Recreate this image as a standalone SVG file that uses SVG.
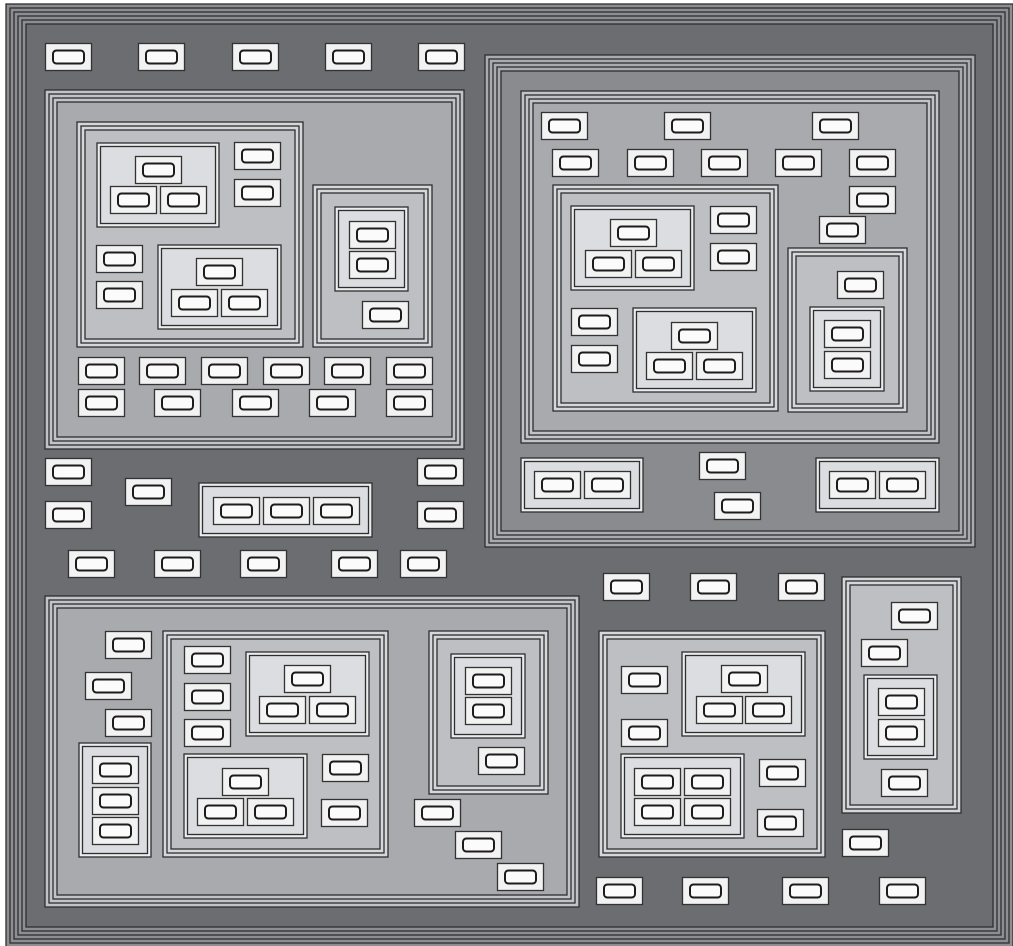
<svg xmlns="http://www.w3.org/2000/svg" xmlns:xlink="http://www.w3.org/1999/xlink" width="1013" height="946" viewBox="0 0 1013 946">
<style>
.c rect{stroke:#2e2e30;stroke-width:1.3}
.nf{fill:none}
.g1{fill:#8d8e92}.f0{fill:#6c6d71}
.g2{fill:#aaabae}.f1{fill:#8a8b8f}
.g3{fill:#c2c3c6}.f2{fill:#a9aaad}
.g4{fill:#d6d7d9}.f3{fill:#bebfc2}
.g5{fill:#ececed}.f4{fill:#dcdde0}
.lb{fill:#f2f2f3;stroke:#333;stroke-width:1.3}
.pill{fill:#fbfbfb;stroke:#1c1c1c;stroke-width:2}
</style>
<defs>
<g id="leaf"><rect class="lb" x="0.5" y="0.5" width="46" height="27"/><rect class="pill" x="8" y="7.5" width="31" height="13" rx="3.5"/></g>
</defs>
<rect width="1013" height="946" fill="#fff"/>
<g id="clusters">
<g id="root" class="c"><rect class="g1" x="6" y="4" width="1007" height="943"/><rect class="nf" x="10" y="8" width="999" height="935"/><rect class="nf" x="14" y="12" width="991" height="927"/><rect class="nf" x="18" y="16" width="983" height="919"/><rect class="nf" x="22" y="20" width="975" height="911"/><rect class="f0" x="26" y="24" width="967" height="903"/></g>
<g id="TL1" class="c"><rect class="g3" x="45" y="90" width="419" height="359"/><rect class="nf" x="49" y="94" width="411" height="351"/><rect class="nf" x="53" y="98" width="403" height="343"/><rect class="f2" x="57" y="102" width="395" height="335"/></g>
<g id="TL1a" class="c"><rect class="g4" x="77" y="122" width="226" height="225"/><rect class="nf" x="81" y="126" width="218" height="217"/><rect class="f3" x="85" y="130" width="210" height="209"/></g>
<g id="TL1a1" class="c"><rect class="g5" x="97" y="143" width="122" height="84"/><rect class="f4" x="100.5" y="146.5" width="115" height="77"/></g>
<g id="TL1a2" class="c"><rect class="g5" x="158" y="245" width="123" height="84"/><rect class="f4" x="161.5" y="248.5" width="116" height="77"/></g>
<g id="TL1b" class="c"><rect class="g4" x="313" y="185" width="119" height="162"/><rect class="nf" x="317" y="189" width="111" height="154"/><rect class="f3" x="321" y="193" width="103" height="146"/></g>
<g id="TL1b1" class="c"><rect class="g5" x="335" y="207" width="73" height="84"/><rect class="f4" x="338.5" y="210.5" width="66" height="77"/></g>
<g id="MID" class="c"><rect class="g5" x="199" y="483" width="173" height="54"/><rect class="f4" x="202.5" y="486.5" width="166" height="47"/></g>
<g id="TR1" class="c"><rect class="g2" x="485" y="55" width="490" height="492"/><rect class="nf" x="489" y="59" width="482" height="484"/><rect class="nf" x="493" y="63" width="474" height="476"/><rect class="nf" x="497" y="67" width="466" height="468"/><rect class="f1" x="501" y="71" width="458" height="460"/></g>
<g id="TR1a" class="c"><rect class="g3" x="521" y="91" width="418" height="352"/><rect class="nf" x="525" y="95" width="410" height="344"/><rect class="nf" x="529" y="99" width="402" height="336"/><rect class="f2" x="533" y="103" width="394" height="328"/></g>
<g id="TR1ai" class="c"><rect class="g4" x="553" y="185" width="225" height="226"/><rect class="nf" x="557" y="189" width="217" height="218"/><rect class="f3" x="561" y="193" width="209" height="210"/></g>
<g id="TR1ai1" class="c"><rect class="g5" x="571" y="206" width="123" height="84"/><rect class="f4" x="574.5" y="209.5" width="116" height="77"/></g>
<g id="TR1ai2" class="c"><rect class="g5" x="633" y="308" width="123" height="84"/><rect class="f4" x="636.5" y="311.5" width="116" height="77"/></g>
<g id="TR1aii" class="c"><rect class="g4" x="788" y="248" width="119" height="164"/><rect class="nf" x="792" y="252" width="111" height="156"/><rect class="f3" x="796" y="256" width="103" height="148"/></g>
<g id="TR1aii1" class="c"><rect class="g5" x="810" y="307" width="74" height="84"/><rect class="f4" x="813.5" y="310.5" width="67" height="77"/></g>
<g id="TR1L" class="c"><rect class="g5" x="521" y="458" width="122" height="54"/><rect class="f4" x="524.5" y="461.5" width="115" height="47"/></g>
<g id="TR1R" class="c"><rect class="g5" x="816" y="458" width="123" height="54"/><rect class="f4" x="819.5" y="461.5" width="116" height="47"/></g>
<g id="BR1" class="c"><rect class="g4" x="599" y="631" width="226" height="226"/><rect class="nf" x="603" y="635" width="218" height="218"/><rect class="f3" x="607" y="639" width="210" height="210"/></g>
<g id="BR1a" class="c"><rect class="g5" x="682" y="652" width="123" height="84"/><rect class="f4" x="685.5" y="655.5" width="116" height="77"/></g>
<g id="BR1b" class="c"><rect class="g5" x="621" y="754" width="123" height="84"/><rect class="f4" x="624.5" y="757.5" width="116" height="77"/></g>
<g id="BR2" class="c"><rect class="g4" x="842" y="577" width="119" height="236"/><rect class="nf" x="846" y="581" width="111" height="228"/><rect class="f3" x="850" y="585" width="103" height="220"/></g>
<g id="BR2a" class="c"><rect class="g5" x="864" y="675" width="73" height="84"/><rect class="f4" x="867.5" y="678.5" width="66" height="77"/></g>
<g id="BL1" class="c"><rect class="g3" x="45" y="596" width="534" height="311"/><rect class="nf" x="49" y="600" width="526" height="303"/><rect class="nf" x="53" y="604" width="518" height="295"/><rect class="f2" x="57" y="608" width="510" height="287"/></g>
<g id="BL1c" class="c"><rect class="g5" x="79" y="743" width="72" height="114"/><rect class="f4" x="82.5" y="746.5" width="65" height="107"/></g>
<g id="BL1a" class="c"><rect class="g4" x="163" y="631" width="225" height="226"/><rect class="nf" x="167" y="635" width="217" height="218"/><rect class="f3" x="171" y="639" width="209" height="210"/></g>
<g id="BL1a1" class="c"><rect class="g5" x="246" y="652" width="123" height="84"/><rect class="f4" x="249.5" y="655.5" width="116" height="77"/></g>
<g id="BL1a2" class="c"><rect class="g5" x="184" y="754" width="123" height="84"/><rect class="f4" x="187.5" y="757.5" width="116" height="77"/></g>
<g id="BL1b" class="c"><rect class="g4" x="429" y="631" width="119" height="163"/><rect class="nf" x="433" y="635" width="111" height="155"/><rect class="f3" x="437" y="639" width="103" height="147"/></g>
<g id="BL1b1" class="c"><rect class="g5" x="451" y="654" width="74" height="84"/><rect class="f4" x="454.5" y="657.5" width="67" height="77"/></g>
</g>
<g id="connectors"></g>
<g id="nodes">
<g id="n1"><use xlink:href="#leaf" x="45" y="43"/></g>
<g id="n2"><use xlink:href="#leaf" x="138" y="43"/></g>
<g id="n3"><use xlink:href="#leaf" x="232" y="43"/></g>
<g id="n4"><use xlink:href="#leaf" x="325" y="43"/></g>
<g id="n5"><use xlink:href="#leaf" x="418" y="43"/></g>
<g id="n6"><use xlink:href="#leaf" x="45" y="458"/></g>
<g id="n7"><use xlink:href="#leaf" x="45" y="501"/></g>
<g id="n8"><use xlink:href="#leaf" x="125" y="478"/></g>
<g id="n9"><use xlink:href="#leaf" x="417" y="458"/></g>
<g id="n10"><use xlink:href="#leaf" x="417" y="501"/></g>
<g id="n11"><use xlink:href="#leaf" x="68" y="550"/></g>
<g id="n12"><use xlink:href="#leaf" x="154" y="550"/></g>
<g id="n13"><use xlink:href="#leaf" x="240" y="550"/></g>
<g id="n14"><use xlink:href="#leaf" x="331" y="550"/></g>
<g id="n15"><use xlink:href="#leaf" x="400" y="550"/></g>
<g id="n16"><use xlink:href="#leaf" x="603" y="573"/></g>
<g id="n17"><use xlink:href="#leaf" x="690" y="573"/></g>
<g id="n18"><use xlink:href="#leaf" x="778" y="573"/></g>
<g id="n19"><use xlink:href="#leaf" x="842" y="829"/></g>
<g id="n20"><use xlink:href="#leaf" x="596" y="877"/></g>
<g id="n21"><use xlink:href="#leaf" x="682" y="877"/></g>
<g id="n22"><use xlink:href="#leaf" x="782" y="877"/></g>
<g id="n23"><use xlink:href="#leaf" x="879" y="877"/></g>
<g id="n24"><use xlink:href="#leaf" x="213" y="497"/></g>
<g id="n25"><use xlink:href="#leaf" x="263" y="497"/></g>
<g id="n26"><use xlink:href="#leaf" x="313" y="497"/></g>
<g id="n27"><use xlink:href="#leaf" x="135" y="156"/></g>
<g id="n28"><use xlink:href="#leaf" x="110" y="186"/></g>
<g id="n29"><use xlink:href="#leaf" x="160" y="186"/></g>
<g id="n30"><use xlink:href="#leaf" x="234" y="142"/></g>
<g id="n31"><use xlink:href="#leaf" x="234" y="179"/></g>
<g id="n32"><use xlink:href="#leaf" x="96" y="245"/></g>
<g id="n33"><use xlink:href="#leaf" x="96" y="281"/></g>
<g id="n34"><use xlink:href="#leaf" x="196" y="258"/></g>
<g id="n35"><use xlink:href="#leaf" x="171" y="289"/></g>
<g id="n36"><use xlink:href="#leaf" x="221" y="289"/></g>
<g id="n37"><use xlink:href="#leaf" x="349" y="221"/></g>
<g id="n38"><use xlink:href="#leaf" x="349" y="251"/></g>
<g id="n39"><use xlink:href="#leaf" x="362" y="301"/></g>
<g id="n40"><use xlink:href="#leaf" x="78" y="357"/></g>
<g id="n41"><use xlink:href="#leaf" x="139" y="357"/></g>
<g id="n42"><use xlink:href="#leaf" x="201" y="357"/></g>
<g id="n43"><use xlink:href="#leaf" x="263" y="357"/></g>
<g id="n44"><use xlink:href="#leaf" x="324" y="357"/></g>
<g id="n45"><use xlink:href="#leaf" x="386" y="357"/></g>
<g id="n46"><use xlink:href="#leaf" x="78" y="389"/></g>
<g id="n47"><use xlink:href="#leaf" x="154" y="389"/></g>
<g id="n48"><use xlink:href="#leaf" x="232" y="389"/></g>
<g id="n49"><use xlink:href="#leaf" x="309" y="389"/></g>
<g id="n50"><use xlink:href="#leaf" x="386" y="389"/></g>
<g id="n51"><use xlink:href="#leaf" x="541" y="112"/></g>
<g id="n52"><use xlink:href="#leaf" x="664" y="112"/></g>
<g id="n53"><use xlink:href="#leaf" x="812" y="112"/></g>
<g id="n54"><use xlink:href="#leaf" x="552" y="149"/></g>
<g id="n55"><use xlink:href="#leaf" x="627" y="149"/></g>
<g id="n56"><use xlink:href="#leaf" x="701" y="149"/></g>
<g id="n57"><use xlink:href="#leaf" x="775" y="149"/></g>
<g id="n58"><use xlink:href="#leaf" x="849" y="149"/></g>
<g id="n59"><use xlink:href="#leaf" x="849" y="186"/></g>
<g id="n60"><use xlink:href="#leaf" x="819" y="216"/></g>
<g id="n61"><use xlink:href="#leaf" x="610" y="219"/></g>
<g id="n62"><use xlink:href="#leaf" x="585" y="250"/></g>
<g id="n63"><use xlink:href="#leaf" x="635" y="250"/></g>
<g id="n64"><use xlink:href="#leaf" x="710" y="206"/></g>
<g id="n65"><use xlink:href="#leaf" x="710" y="243"/></g>
<g id="n66"><use xlink:href="#leaf" x="571" y="308"/></g>
<g id="n67"><use xlink:href="#leaf" x="571" y="345"/></g>
<g id="n68"><use xlink:href="#leaf" x="671" y="322"/></g>
<g id="n69"><use xlink:href="#leaf" x="646" y="352"/></g>
<g id="n70"><use xlink:href="#leaf" x="696" y="352"/></g>
<g id="n71"><use xlink:href="#leaf" x="837" y="271"/></g>
<g id="n72"><use xlink:href="#leaf" x="824" y="320"/></g>
<g id="n73"><use xlink:href="#leaf" x="824" y="351"/></g>
<g id="n74"><use xlink:href="#leaf" x="534" y="471"/></g>
<g id="n75"><use xlink:href="#leaf" x="584" y="471"/></g>
<g id="n76"><use xlink:href="#leaf" x="699" y="452"/></g>
<g id="n77"><use xlink:href="#leaf" x="714" y="492"/></g>
<g id="n78"><use xlink:href="#leaf" x="829" y="471"/></g>
<g id="n79"><use xlink:href="#leaf" x="879" y="471"/></g>
<g id="n80"><use xlink:href="#leaf" x="621" y="666"/></g>
<g id="n81"><use xlink:href="#leaf" x="621" y="719"/></g>
<g id="n82"><use xlink:href="#leaf" x="721" y="665"/></g>
<g id="n83"><use xlink:href="#leaf" x="696" y="696"/></g>
<g id="n84"><use xlink:href="#leaf" x="745" y="696"/></g>
<g id="n85"><use xlink:href="#leaf" x="634" y="768"/></g>
<g id="n86"><use xlink:href="#leaf" x="684" y="768"/></g>
<g id="n87"><use xlink:href="#leaf" x="634" y="798"/></g>
<g id="n88"><use xlink:href="#leaf" x="684" y="798"/></g>
<g id="n89"><use xlink:href="#leaf" x="759" y="759"/></g>
<g id="n90"><use xlink:href="#leaf" x="757" y="809"/></g>
<g id="n91"><use xlink:href="#leaf" x="891" y="602"/></g>
<g id="n92"><use xlink:href="#leaf" x="861" y="639"/></g>
<g id="n93"><use xlink:href="#leaf" x="878" y="688"/></g>
<g id="n94"><use xlink:href="#leaf" x="878" y="719"/></g>
<g id="n95"><use xlink:href="#leaf" x="881" y="769"/></g>
<g id="n96"><use xlink:href="#leaf" x="105" y="631"/></g>
<g id="n97"><use xlink:href="#leaf" x="85" y="672"/></g>
<g id="n98"><use xlink:href="#leaf" x="105" y="709"/></g>
<g id="n99"><use xlink:href="#leaf" x="92" y="756"/></g>
<g id="n100"><use xlink:href="#leaf" x="92" y="787"/></g>
<g id="n101"><use xlink:href="#leaf" x="92" y="817"/></g>
<g id="n102"><use xlink:href="#leaf" x="184" y="646"/></g>
<g id="n103"><use xlink:href="#leaf" x="184" y="683"/></g>
<g id="n104"><use xlink:href="#leaf" x="184" y="719"/></g>
<g id="n105"><use xlink:href="#leaf" x="284" y="665"/></g>
<g id="n106"><use xlink:href="#leaf" x="259" y="696"/></g>
<g id="n107"><use xlink:href="#leaf" x="309" y="696"/></g>
<g id="n108"><use xlink:href="#leaf" x="222" y="768"/></g>
<g id="n109"><use xlink:href="#leaf" x="197" y="798"/></g>
<g id="n110"><use xlink:href="#leaf" x="247" y="798"/></g>
<g id="n111"><use xlink:href="#leaf" x="322" y="754"/></g>
<g id="n112"><use xlink:href="#leaf" x="321" y="799"/></g>
<g id="n113"><use xlink:href="#leaf" x="465" y="667"/></g>
<g id="n114"><use xlink:href="#leaf" x="465" y="697"/></g>
<g id="n115"><use xlink:href="#leaf" x="478" y="747"/></g>
<g id="n116"><use xlink:href="#leaf" x="414" y="799"/></g>
<g id="n117"><use xlink:href="#leaf" x="455" y="831"/></g>
<g id="n118"><use xlink:href="#leaf" x="497" y="863"/></g>
</g>
</svg>
